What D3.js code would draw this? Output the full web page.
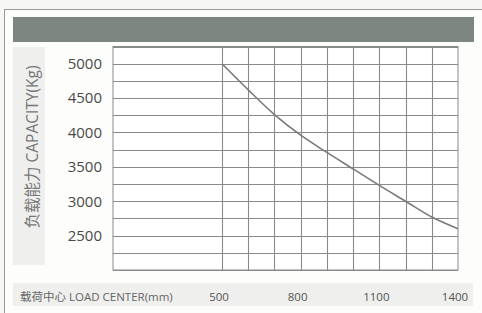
<!DOCTYPE html>
<html><head><meta charset="utf-8">
<script src="https://cdn.jsdelivr.net/npm/d3@7"></script>
<style>
html,body{margin:0;padding:0;background:#f7f7f5;}
svg{display:block;}
text{font-family:"Open Sans","Noto Sans CJK SC",sans-serif;}
</style></head><body>
<svg id="c" width="482" height="313"></svg>
<script>
const loadCenters = [500, 600, 700, 800, 900, 1000, 1100, 1200, 1300, 1400];
const capacities = [5000, 4620, 4260, 3960, 3710, 3470, 3230, 3000, 2770, 2600];
const xTickLabels = [500, 800, 1100, 1400];
const yTickLabels = [2500, 3000, 3500, 4000, 4500, 5000];
const yGridValues = d3.range(2000, 5251, 250);
const xGridValues = [600, 700, 800, 900, 1000, 1100, 1200, 1300];
const yTitle = "负载能力 CAPACITY(Kg)";
const xTitle = "载荷中心 LOAD CENTER(mm)";

const svg = d3.select("#c");
// outer frame
svg.append("rect").attr("x",4.5).attr("y",9.5).attr("width",490).attr("height",320)
  .attr("fill","#fdfdfc").attr("stroke","#9a9a9a").attr("stroke-width",1);
// title band
svg.append("rect").attr("x",13).attr("y",17).attr("width",461).attr("height",25).attr("fill","#7e8681");
// axis title backgrounds
svg.append("rect").attr("x",13).attr("y",47).attr("width",32).attr("height",218).attr("fill","#efefee");
svg.append("rect").attr("x",13).attr("y",283).attr("width",460).attr("height",23).attr("fill","#efefee");

const x = d3.scaleLinear().domain([500,1400]).range([222,458]);
const y = d3.scaleLinear().domain([2000,5250]).range([270,46.5]);
const plotLeft = 113;

const g = svg.append("g");
g.append("rect").attr("x",plotLeft).attr("y",y(5250)).attr("width",x(1400)-plotLeft).attr("height",y(2000)-y(5250))
  .attr("fill","#ffffff").attr("stroke","#8a8a8a").attr("stroke-width",1);
// horizontal grid
g.selectAll("line.h").data(yGridValues).join("line").attr("class","h")
  .attr("x1",plotLeft).attr("x2",x(1400)).attr("y1",d=>Math.round(y(d))+0.5).attr("y2",d=>Math.round(y(d))+0.5)
  .attr("stroke","#8a8a8a").attr("stroke-width",1.1);
// vertical grid
g.selectAll("line.v").data([500].concat(xGridValues)).join("line").attr("class","v")
  .attr("y1",y(5250)).attr("y2",y(2000)).attr("x1",d=>Math.round(x(d))+0.5).attr("x2",d=>Math.round(x(d))+0.5)
  .attr("stroke","#8a8a8a").attr("stroke-width",1.1);

// curve
const line = d3.line().x((d,i)=>x(loadCenters[i])).y(d=>y(d)).curve(d3.curveCatmullRom.alpha(0.5));
g.append("path").datum(capacities).attr("d",line).attr("fill","none").attr("stroke","#7a7a7a").attr("stroke-width",1.6);

// y tick labels
svg.selectAll("text.yl").data(yTickLabels).join("text").attr("class","yl")
  .attr("x",102).attr("y",d=>y(d)).attr("dy","0.36em").attr("text-anchor","end")
  .attr("font-size",15).attr("fill","#4a4a4a").text(d=>d);
// x tick labels
svg.selectAll("text.xl").data(xTickLabels).join("text").attr("class","xl")
  .attr("x",d=>x(d)-3).attr("y",301).attr("text-anchor","middle")
  .attr("font-size",11.5).attr("fill","#555").text(d=>d);
// titles
svg.append("text").attr("transform","translate(38,147) rotate(-90)").attr("text-anchor","middle")
  .attr("font-size",15.5).attr("fill","#777").text(yTitle);
svg.append("text").attr("x",20).attr("y",301).attr("font-size",11.5).attr("fill","#666").text(xTitle);
</script>
</body></html>
